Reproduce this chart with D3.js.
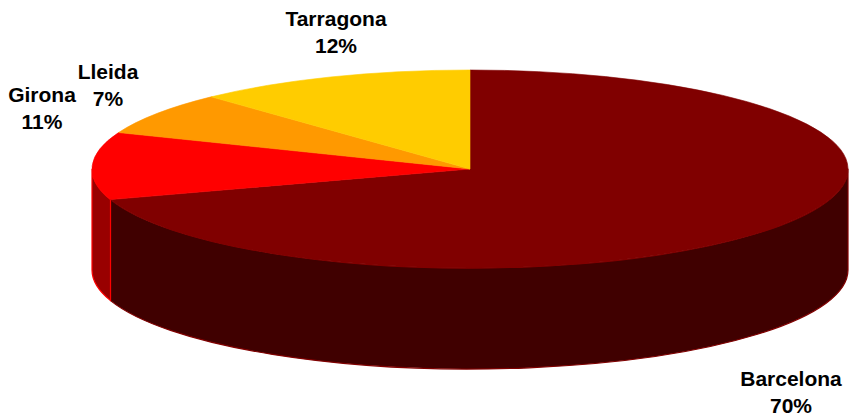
<!DOCTYPE html>
<html>
<head>
<meta charset="utf-8">
<script src="https://cdn.jsdelivr.net/npm/d3@7"></script>
<style>
  html, body { margin: 0; padding: 0; background: #fff; }
  svg { display: block; }
  text { font-family: "Liberation Sans", Arial, sans-serif; font-weight: bold; }
</style>
</head>
<body>
<div class="container"></div>
<script>
// chart data
const provinces = ['Barcelona', 'Girona', 'Lleida', 'Tarragona']
const shares = [70, 11, 7, 12]
const topColors = ['#800000', '#ff0000', '#ff9900', '#ffcc00']
const sideColors = ['#400000', '#990000', '#995c00', '#997a00']

const WIDTH = 850
const HEIGHT = 416
const CX = 470
const CY = 169
const RX = 378
const RY = 99
const DEPTH = 101
const FONT_SIZE = '21px'
const LINE_STEP = 27

// where each label sits (centre x, first baseline)
const labelPos = [
  [791, 386],
  [42, 102],
  [108, 79],
  [336, 26],
]

const svg = d3.select('.container')
  .append('svg')
  .attr('width', WIDTH)
  .attr('height', HEIGHT)

const pie = d3.pie().sort(null).value(d => d.value)
const slices = pie(provinces.map((name, i) => ({ name, value: shares[i], i })))

// point on the ellipse for a pie angle (0 = top, clockwise)
const px = a => CX + RX * Math.sin(a)
const py = (a, dy = 0) => CY - RY * Math.cos(a) + dy

function topPath(s) {
  const large = s.endAngle - s.startAngle > Math.PI ? 1 : 0
  return `M${CX},${CY} L${px(s.startAngle)},${py(s.startAngle)} ` +
    `A${RX},${RY} 0 ${large} 1 ${px(s.endAngle)},${py(s.endAngle)} Z`
}

// only the front half of the rim can be seen
function sidePath(s) {
  const a0 = Math.max(s.startAngle, Math.PI / 2)
  const a1 = Math.min(s.endAngle, Math.PI * 1.5)
  if (a1 <= a0) return null
  const large = a1 - a0 > Math.PI ? 1 : 0
  return `M${px(a0)},${py(a0)} A${RX},${RY} 0 ${large} 1 ${px(a1)},${py(a1)} ` +
    `L${px(a1)},${py(a1, DEPTH)} A${RX},${RY} 0 ${large} 0 ${px(a0)},${py(a0, DEPTH)} Z`
}

// sides first, then the top faces
svg.append('g')
    .attr('class', 'sides')
  .selectAll('path')
  .data(slices.filter(s => sidePath(s)))
  .enter()
    .append('path')
    .attr('d', sidePath)
    .attr('fill', d => sideColors[d.data.i])
    .attr('stroke', d => topColors[d.data.i])
    .attr('stroke-width', 1.2)
    .attr('stroke-linejoin', 'round')

svg.append('g')
    .attr('class', 'tops')
  .selectAll('path')
  .data(slices)
  .enter()
    .append('path')
    .attr('d', topPath)
    .attr('fill', d => topColors[d.data.i])
    .attr('stroke', d => topColors[d.data.i])
    .attr('stroke-width', 0.6)

// labels
const labels = svg.append('g')
    .attr('class', 'labels')
  .selectAll('text')
  .data(slices)
  .enter()
    .append('text')
    .attr('text-anchor', 'middle')
    .attr('font-size', FONT_SIZE)
    .attr('fill', '#000')

labels.append('tspan')
  .attr('x', d => labelPos[d.data.i][0])
  .attr('y', d => labelPos[d.data.i][1])
  .text(d => d.data.name)

labels.append('tspan')
  .attr('x', d => labelPos[d.data.i][0])
  .attr('y', d => labelPos[d.data.i][1] + LINE_STEP)
  .text(d => `${d.data.value}%`)
</script>
</body>
</html>
